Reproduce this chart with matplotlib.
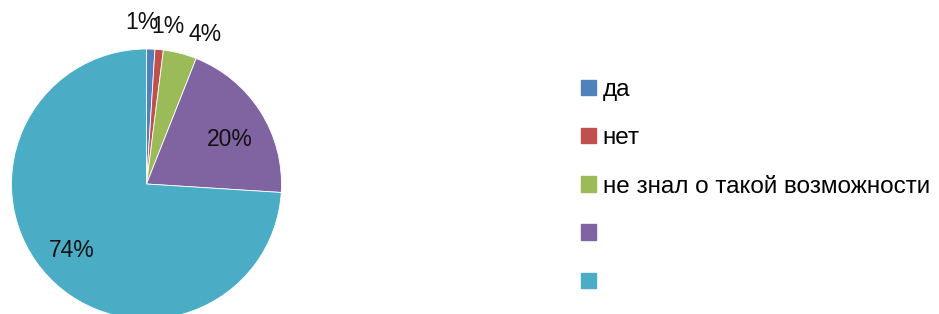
import numpy as np
import matplotlib
matplotlib.use('Agg')
import matplotlib.pyplot as plt

# данные опроса
labels = ['да', 'нет', 'не знал о такой возможности', '', '']
values = [1, 1, 4, 20, 74]
pct_text = ['1%', '1%', '4%', '20%', '74%']
colors = ['#4F81BD', '#C0504D', '#9BBB59', '#8064A2', '#4BACC6']

# положение подписей (радиус и сдвиг угла в градусах)
label_r = [1.2, 1.18, 1.19, 0.70, 0.74]
label_shift = [3.4, -2.3, -6.9, -4.6, -1.7]

plt.rcParams['font.family'] = ['Liberation Sans', 'DejaVu Sans']

W, H = 939, 314
fig = plt.figure(figsize=(W / 100, H / 100), dpi=100)

cx, cy, R = 146.5, 184, 135
ax = fig.add_axes([(cx - R) / W, (H - cy - R) / H, 2 * R / W, 2 * R / H])
wedges, _ = ax.pie(values, colors=colors, startangle=90, counterclock=False,
                   radius=1, wedgeprops=dict(linewidth=0.6, edgecolor='white'))
ax.set_xlim(-1, 1)
ax.set_ylim(-1, 1)
ax.set_aspect('equal')
ax.axis('off')

for w, t, r, s in zip(wedges, pct_text, label_r, label_shift):
    ang = np.deg2rad((w.theta1 + w.theta2) / 2 + s)
    ax.text(r * np.cos(ang), r * np.sin(ang), t, ha='center', va='center',
            fontsize=16.5, color='#111111', clip_on=False)

handles = [plt.Rectangle((0, 0), 1, 1, color=c) for c in colors]
fig.legend(handles, labels, loc='upper left', bbox_to_anchor=(581 / W, 1 - 79 / H),
           frameon=False, fontsize=17.5, handlelength=0.6, handleheight=0.6,
           handletextpad=0.3, labelspacing=1.08, borderpad=0, borderaxespad=0)

fig.savefig('out.png', dpi=100)
